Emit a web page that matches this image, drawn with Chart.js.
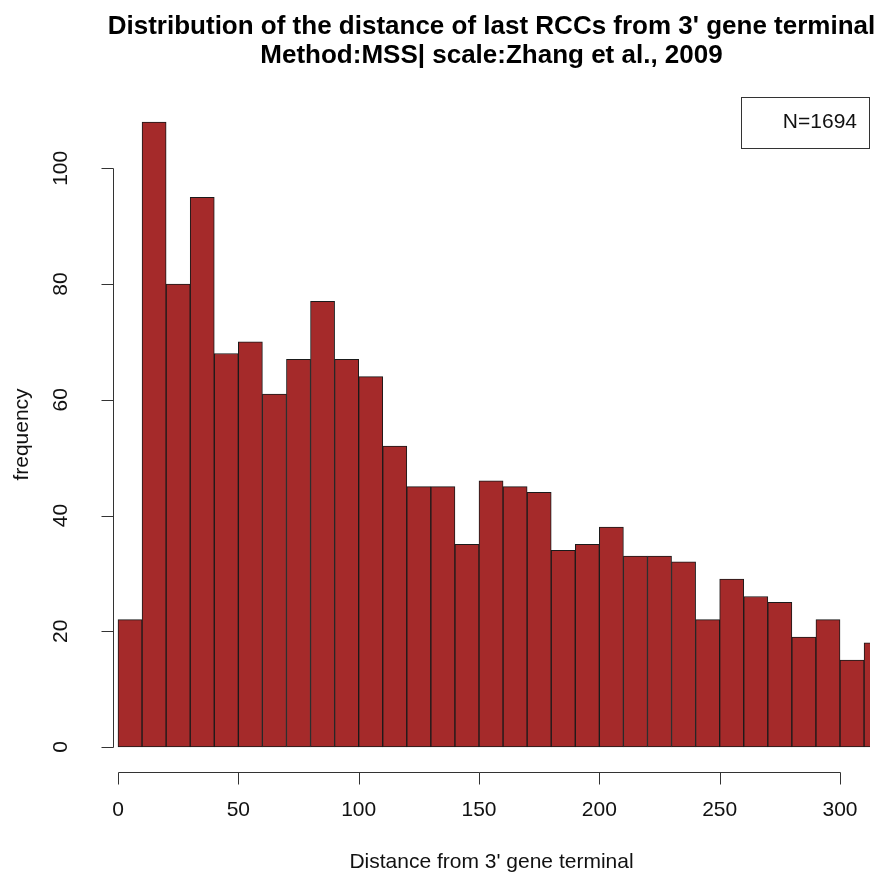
<!DOCTYPE html>
<html>
<head>
<meta charset="utf-8">
<title>Distribution of the distance of last RCCs from 3' gene terminal</title>
<script src="https://cdn.jsdelivr.net/npm/chart.js@4.4.1/dist/chart.umd.min.js"></script>
<style>
  html, body { margin: 0; padding: 0; background: #ffffff; }
  #wrap { width: 880px; height: 875px; }
</style>
</head>
<body>
<div id="wrap"><canvas id="hist" width="880" height="875"></canvas></div>
<script>
// Histogram bins (left edges, width 10) and their counts
const binStarts = [0, 10, 20, 30, 40, 50, 60, 70, 80, 90, 100, 110, 120, 130, 140, 150,
                   160, 170, 180, 190, 200, 210, 220, 230, 240, 250, 260, 270, 280, 290, 300, 310];
const binWidth = 10;
const counts = [22, 108, 80, 95, 68, 70, 61, 67, 77, 67, 64, 52, 45, 45, 35, 46,
                45, 44, 34, 35, 38, 33, 33, 32, 22, 29, 26, 25, 19, 22, 15, 18];

// Axis ticks
const xTicks = [0, 50, 100, 150, 200, 250, 300];
const yTicks = [0, 20, 40, 60, 80, 100];

// Text
const titleLines = [
  "Distribution of the distance of last RCCs from 3' gene terminal",
  "Method:MSS| scale:Zhang et al., 2009"
];
const xTitle = "Distance from 3' gene terminal";
const yTitle = "frequency";
const legendText = "N=1694";

const FONT = '"Liberation Sans", Arial, Helvetica, sans-serif';
const barColour = '#A52A2A';

const points = binStarts.map((s, i) => ({ x: s + binWidth / 2, y: counts[i] }));

// Base-graphics style axes, titles and legend box
const baseGraphics = {
  id: 'baseGraphics',
  afterDraw(chart) {
    const { ctx, chartArea: a, scales: { x, y } } = chart;
    ctx.save();
    ctx.strokeStyle = '#333333';
    ctx.lineWidth = 1;
    ctx.fillStyle = '#111111';

    // y axis
    const ax = Math.round(a.left) + 0.5;
    const yTop = Math.round(y.getPixelForValue(yTicks[yTicks.length - 1])) + 0.5;
    const yBot = Math.round(y.getPixelForValue(yTicks[0])) + 0.5;
    ctx.beginPath();
    ctx.moveTo(ax, yTop); ctx.lineTo(ax, yBot);
    yTicks.forEach(v => {
      const p = Math.round(y.getPixelForValue(v)) + 0.5;
      ctx.moveTo(ax, p); ctx.lineTo(ax - 12, p);
    });
    ctx.stroke();

    ctx.font = '21px ' + FONT;
    ctx.textAlign = 'center';
    ctx.textBaseline = 'middle';
    yTicks.forEach(v => {
      const p = y.getPixelForValue(v);
      ctx.save();
      ctx.translate(61, p);
      ctx.rotate(-Math.PI / 2);
      ctx.fillText(String(v), 0, 0);
      ctx.restore();
    });

    // x axis
    const ay = Math.round(a.bottom) + 0.5;
    const xL = Math.round(x.getPixelForValue(xTicks[0])) + 0.5;
    const xR = Math.round(x.getPixelForValue(xTicks[xTicks.length - 1])) + 0.5;
    ctx.beginPath();
    ctx.moveTo(xL, ay); ctx.lineTo(xR, ay);
    xTicks.forEach(v => {
      const p = Math.round(x.getPixelForValue(v)) + 0.5;
      ctx.moveTo(p, ay); ctx.lineTo(p, ay + 12);
    });
    ctx.stroke();
    xTicks.forEach(v => {
      ctx.fillText(String(v), x.getPixelForValue(v), 810);
    });

    // axis titles
    const cx = (a.left + a.right) / 2;
    ctx.fillText(xTitle, cx, 862);
    ctx.save();
    ctx.translate(22, (a.top + a.bottom) / 2);
    ctx.rotate(-Math.PI / 2);
    ctx.fillText(yTitle, 0, 0);
    ctx.restore();

    // main title
    ctx.fillStyle = '#000000';
    ctx.font = 'bold 26px ' + FONT;
    ctx.textBaseline = 'alphabetic';
    ctx.fillText(titleLines[0], cx, 34);
    ctx.fillText(titleLines[1], cx, 63);

    // legend box (top right of plot region)
    ctx.strokeStyle = '#333333';
    ctx.strokeRect(741.5, Math.round(a.top) + 0.5, Math.round(a.right) - 741 - 1, 51);
    ctx.fillStyle = '#111111';
    ctx.font = '21px ' + FONT;
    ctx.textAlign = 'right';
    ctx.textBaseline = 'middle';
    ctx.fillText(legendText, 857, a.top + 25);

    ctx.restore();
  }
};

new Chart(document.getElementById('hist'), {
  type: 'bar',
  data: {
    datasets: [{
      data: points,
      backgroundColor: barColour,
      borderColor: '#1a1a1a',
      borderWidth: 1,
      borderSkipped: false,
      barPercentage: 1.0,
      categoryPercentage: 1.0,
      clip: 0
    }]
  },
  options: {
    responsive: false,
    animation: false,
    devicePixelRatio: 1,
    layout: { padding: { left: 113, right: 10, top: 97, bottom: 103 } },
    plugins: { legend: { display: false }, tooltip: { enabled: false }, title: { display: false } },
    scales: {
      x: { type: 'linear', display: false, min: -2.078, max: 312.46, offset: false },
      y: { type: 'linear', display: false, min: -4.32, max: 112.32 }
    }
  },
  plugins: [baseGraphics]
});
</script>
</body>
</html>
